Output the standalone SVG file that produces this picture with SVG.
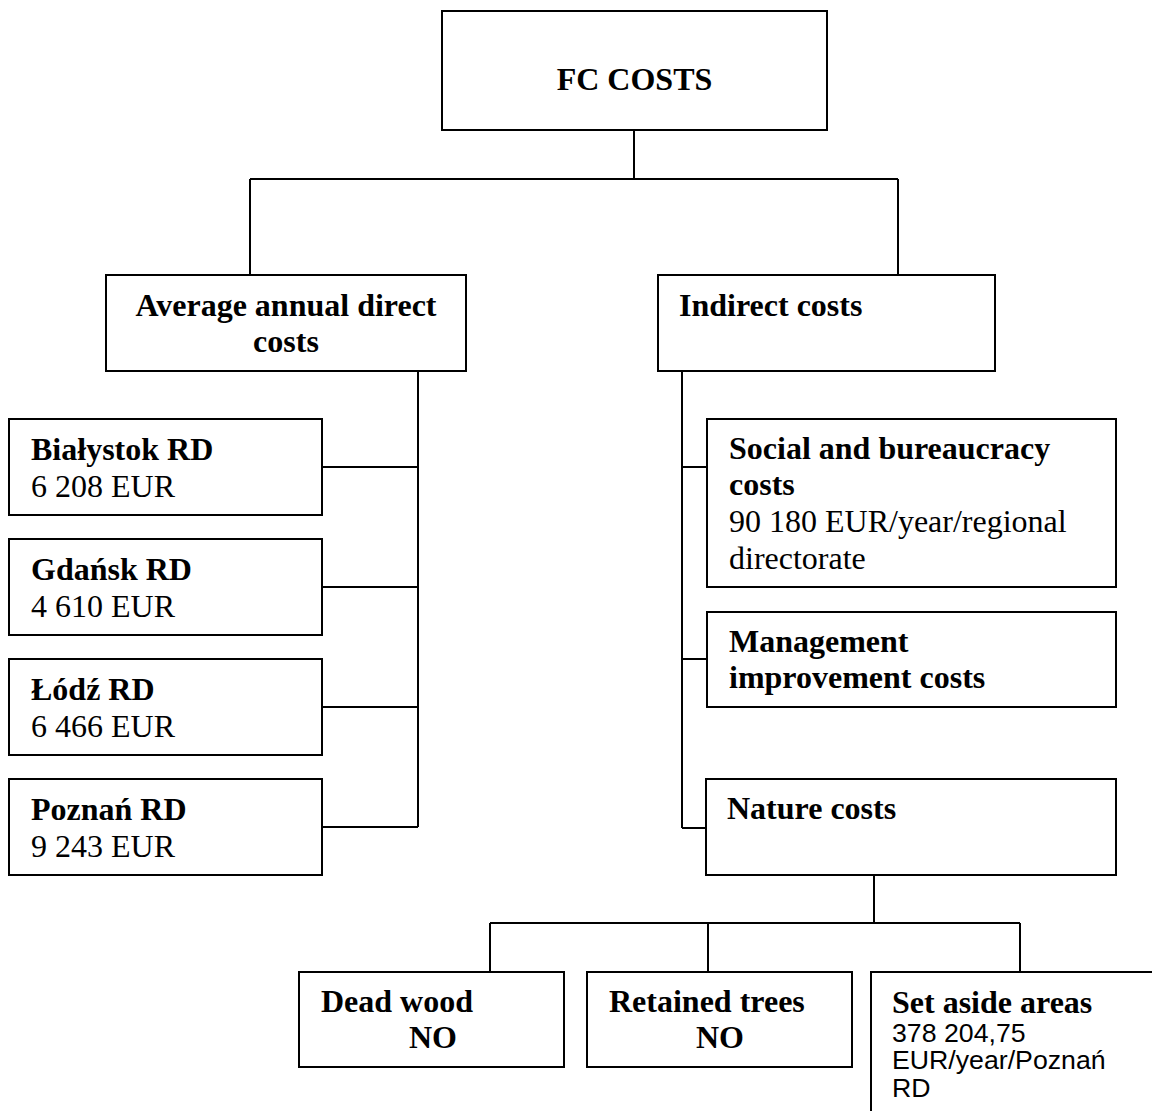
<svg xmlns="http://www.w3.org/2000/svg" width="1152" height="1111" viewBox="0 0 1152 1111">
  <style>
    .box { fill: #ffffff; stroke: #000000; stroke-width: 2; }
    .wire { fill: none; stroke: #000000; stroke-width: 2; }
    text { font-family: "Liberation Serif", "Times New Roman", serif; font-size: 32px; fill: #000000; }
    .b { font-weight: bold; }
    .sans { font-family: "Liberation Sans", Arial, sans-serif; font-size: 26.7px; }
  </style>
  <rect width="1152" height="1111" fill="#ffffff"/>

  <!-- connectors -->
  <g id="connectors" class="wire">
    <path d="M634 130 V179"/>
    <path d="M250 179 H898"/>
    <path d="M250 179 V275"/>
    <path d="M898 179 V275"/>
    <path d="M418 371 V827"/>
    <path d="M322 467 H418"/>
    <path d="M322 587 H418"/>
    <path d="M322 707 H418"/>
    <path d="M322 827 H418"/>
    <path d="M682 371 V828"/>
    <path d="M682 467 H707"/>
    <path d="M682 659 H707"/>
    <path d="M682 828 H706"/>
    <path d="M874 875 V923"/>
    <path d="M490 923 H1020"/>
    <path d="M490 923 V972"/>
    <path d="M708 923 V972"/>
    <path d="M1020 923 V972"/>
  </g>

  <g id="fc-costs">
    <rect class="box" x="442" y="11" width="385" height="119"/>
    <text class="b" x="634.5" y="90" text-anchor="middle">FC COSTS</text>
  </g>

  <g id="direct-costs">
    <rect class="box" x="106" y="275" width="360" height="96"/>
    <text class="b" x="286" y="316" text-anchor="middle">Average annual direct</text>
    <text class="b" x="286" y="352" text-anchor="middle">costs</text>
  </g>

  <g id="indirect-costs">
    <rect class="box" x="658" y="275" width="337" height="96"/>
    <text class="b" x="679" y="316">Indirect costs</text>
  </g>

  <g id="bialystok">
    <rect class="box" x="9" y="419" width="313" height="96"/>
    <text class="b" x="31" y="460">Białystok RD</text>
    <text x="31" y="497">6 208 EUR</text>
  </g>

  <g id="gdansk">
    <rect class="box" x="9" y="539" width="313" height="96"/>
    <text class="b" x="31" y="580">Gdańsk RD</text>
    <text x="31" y="617">4 610 EUR</text>
  </g>

  <g id="lodz">
    <rect class="box" x="9" y="659" width="313" height="96"/>
    <text class="b" x="31" y="700">Łódź RD</text>
    <text x="31" y="737">6 466 EUR</text>
  </g>

  <g id="poznan">
    <rect class="box" x="9" y="779" width="313" height="96"/>
    <text class="b" x="31" y="820">Poznań RD</text>
    <text x="31" y="857">9 243 EUR</text>
  </g>

  <g id="social">
    <rect class="box" x="707" y="419" width="409" height="168"/>
    <text class="b" x="729" y="459">Social and bureaucracy</text>
    <text class="b" x="729" y="495">costs</text>
    <text x="729" y="532">90 180 EUR/year/regional</text>
    <text x="729" y="569">directorate</text>
  </g>

  <g id="management">
    <rect class="box" x="707" y="612" width="409" height="95"/>
    <text class="b" x="729" y="652">Management</text>
    <text class="b" x="729" y="688">improvement costs</text>
  </g>

  <g id="nature">
    <rect class="box" x="706" y="779" width="410" height="96"/>
    <text class="b" x="727" y="819">Nature costs</text>
  </g>

  <g id="dead-wood">
    <rect class="box" x="299" y="972" width="265" height="95"/>
    <text class="b" x="321" y="1012">Dead wood</text>
    <text class="b" x="409" y="1048">NO</text>
  </g>

  <g id="retained-trees">
    <rect class="box" x="587" y="972" width="265" height="95"/>
    <text class="b" x="609" y="1012">Retained trees</text>
    <text class="b" x="696" y="1048">NO</text>
  </g>

  <g id="set-aside">
    <rect class="box" x="871" y="972" width="300" height="200"/>
    <text class="b" x="892" y="1013">Set aside areas</text>
    <text class="sans" x="892" y="1042">378 204,75</text>
    <text class="sans" x="892" y="1069">EUR/year/Poznań</text>
    <text class="sans" x="892" y="1097">RD</text>
  </g>
</svg>
